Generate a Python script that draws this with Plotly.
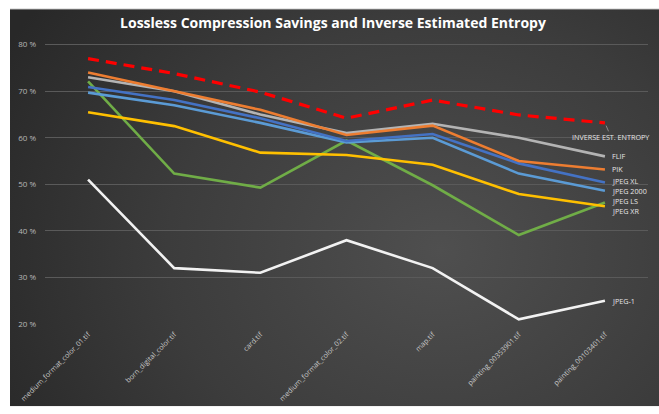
import base64
import plotly.graph_objects as go

categories = ["medium_format_color_01.tif", "born_digital_color.tif", "card.tif",
              "medium_format_color_02.tif", "map.tif", "painting_00353901.tif",
              "painting_00103401.tif"]

inverse_entropy = [77.0, 73.8, 69.8, 64.2, 68.1, 64.9, 63.2]
flif = [73.0, 70.0, 65.0, 61.0, 63.0, 60.0, 56.0]
pik = [74.0, 70.0, 66.0, 60.6, 62.6, 55.0, 53.2]
jpeg_xl = [70.9, 68.1, 64.2, 59.3, 60.8, 54.5, 50.4]
jpeg_2000 = [69.7, 67.0, 63.2, 59.0, 60.0, 52.3, 48.6]
jpeg_xr = [65.5, 62.5, 56.8, 56.3, 54.2, 47.9, 45.3]
jpeg_ls = [72.1, 52.3, 49.3, 59.4, 49.8, 39.1, 46.1]
jpeg_1 = [51.0, 32.0, 31.0, 38.0, 32.0, 21.0, 25.0]

y_ticks = [20, 30, 40, 50, 60, 70, 80]
y_tick_text = ["20 %", "30 %", "40 %", "50 %", "60 %", "70 %", "80 %"]

# (name, values, colour, label shift in px, positive = up)
series = [
    ("JPEG-1", jpeg_1, "#F2F2F2", 0),
    ("JPEG LS", jpeg_ls, "#70AD47", 1.5),
    ("JPEG XR", jpeg_xr, "#FFC000", -4.7),
    ("JPEG 2000", jpeg_2000, "#5B9BD5", 0),
    ("JPEG XL", jpeg_xl, "#4472C4", 1),
    ("FLIF", flif, "#B4B4B4", 0),
    ("PIK", pik, "#ED7D31", 0),
]

W, H = 659, 414
ML, MR, MT, MB = 45, 11, 40, 84
pw, ph = W - ML - MR, H - MT - MB

# background panel (radial gradient) as an inline SVG image
BX, BY = 10, 8
bw, bh = W - BX, H - BY
svg = (
    f'<svg xmlns="http://www.w3.org/2000/svg" width="{bw}" height="{bh}" '
    f'viewBox="0 0 {bw} {bh}">'
    '<defs><radialGradient id="g" gradientUnits="userSpaceOnUse" '
    f'cx="{440 - BX}" cy="{255 - BY}" r="430" '
    'gradientTransform="translate(430 247) scale(1.15 1) translate(-430 -247)">'
    '<stop offset="0" stop-color="#4f4f4f"/>'
    '<stop offset="0.55" stop-color="#3c3c3c"/>'
    '<stop offset="1" stop-color="#282828"/>'
    '</radialGradient></defs>'
    f'<rect x="0" y="0" width="{bw}" height="{bh}" fill="url(#g)"/>'
    f'<line x1="0" y1="0.5" x2="{bw}" y2="0.5" stroke="#9a9a9a" stroke-width="1"/>'
    '</svg>'
)
bg_src = "data:image/svg+xml;base64," + base64.b64encode(svg.encode()).decode()

fig = go.Figure()

for name, vals, color, shift in series:
    fig.add_trace(go.Scatter(x=categories, y=vals, mode="lines", name=name,
                             line=dict(color=color, width=2.6), showlegend=False))

fig.add_trace(go.Scatter(x=categories, y=inverse_entropy, mode="lines",
                         name="INVERSE EST. ENTROPY",
                         line=dict(color="#FF0000", width=3.2, dash="11px,7px"),
                         showlegend=False))

lab_font = dict(family="Open Sans", size=7.2, color="#E6E6E6")
annotations = []
for name, vals, color, shift in series:
    annotations.append(dict(x=categories[-1], y=vals[-1], xref="x", yref="y",
                            text=name, showarrow=False, xanchor="left",
                            xshift=6, yshift=shift, borderpad=0,
                            font=lab_font))
annotations.append(dict(x=categories[-1], y=inverse_entropy[-1], xref="x", yref="y",
                        text="INVERSE EST. ENTROPY", showarrow=True, arrowhead=0,
                        arrowwidth=0.8, arrowcolor="#9A9A9A", standoff=3,
                        ax=6, ay=14, xanchor="center", borderpad=0,
                        font=lab_font))

fig.update_layout(
    width=W, height=H,
    margin=dict(l=ML, r=MR, t=MT, b=MB),
    paper_bgcolor="white",
    plot_bgcolor="rgba(0,0,0,0)",
    images=[dict(source=bg_src, xref="paper", yref="paper",
                 x=(BX - ML) / pw, y=(H - MB - BY) / ph,
                 sizex=bw / pw, sizey=bh / ph,
                 xanchor="left", yanchor="top", sizing="stretch", layer="below")],
    title=dict(text="<b>Lossless Compression Savings and Inverse Estimated Entropy</b>",
               x=333 / W, xref="container", xanchor="center",
               y=1 - 23 / H, yref="container", yanchor="middle",
               font=dict(family="Open Sans", size=14, color="white")),
    annotations=annotations,
    xaxis=dict(range=[-0.5, 6.5], showgrid=False, showline=False, zeroline=False,
               tickangle=-45, ticks="", ticklabelstandoff=4,
               tickfont=dict(family="Open Sans", size=7.2, color="#C8C8C8")),
    yaxis=dict(range=[20, 81], tickvals=y_ticks, ticktext=y_tick_text,
               showgrid=True, gridcolor="#5a5a5a", gridwidth=1,
               zeroline=False, showline=False, ticks="", ticklabelstandoff=8,
               tickfont=dict(family="Open Sans", size=8, color="#B8B8B8")),
)

fig.write_html("out.html")
